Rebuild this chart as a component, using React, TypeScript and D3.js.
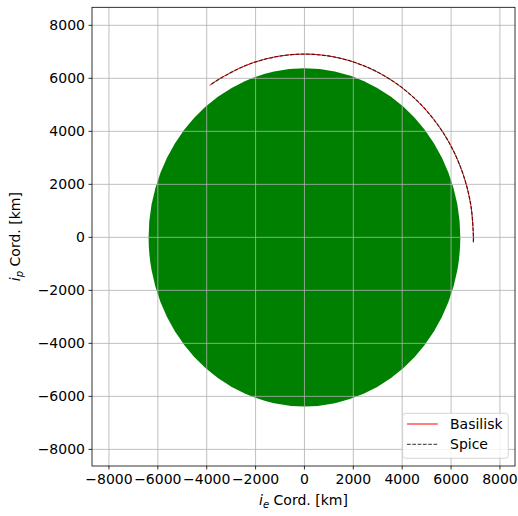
import React from "react";
import * as d3 from "d3";

// Orbit points (km)
const basiliskX = [6912, 6915, 6810, 6498, 5989, 5297, 4445, 3458, 2365, 1201, 0, -1201, -2365, -3458, -3874];
const basiliskY = [-193, 0, 1201, 2365, 3458, 4445, 5297, 5989, 6498, 6810, 6915, 6810, 6498, 5989, 5739];
const spiceX = [6908, 6915, 6810, 6498, 5989, 5297, 4445, 3458, 2365, 1201, 0, -1201, -2365, -3458, -3874];
const spiceY = [-160, 0, 1201, 2365, 3458, 4445, 5297, 5989, 6498, 6810, 6915, 6810, 6498, 5989, 5739];
const earthRadius = [6378];
const ticks = [-8000, -6000, -4000, -2000, 0, 2000, 4000, 6000, 8000];
const legendLabels = ["Basilisk", "Spice"];

const W = 518, H = 516;
const left = 92, right = 515, top = 7.3, bottom = 466;
const font = "DejaVu Sans, sans-serif";

export default function App() {
  const x = d3.scaleLinear().domain([-8694, 8616]).range([left, right]);
  const y = d3.scaleLinear().domain([-8627, 8680]).range([bottom, top]);
  const line = d3.line<[number, number]>().x(d => x(d[0])).y(d => y(d[1])).curve(d3.curveCatmullRom);
  const bas = basiliskX.map((v, i) => [v, basiliskY[i]] as [number, number]);
  const spi = spiceX.map((v, i) => [v, spiceY[i]] as [number, number]);
  const fmt = (t: number) => (t < 0 ? "\u2212" + Math.abs(t) : String(t));
  const R = earthRadius[0];
  const lx = 402.7, ly = 413.3, lw = 105.6, lh = 45;
  return (
    <svg width={W} height={H} style={{ position: "absolute", left: 0, top: 0 }} fontFamily={font}>
      <rect x={0} y={0} width={W} height={H} fill="white" />
      <defs>
        <clipPath id="clip"><rect x={left} y={top} width={right - left} height={bottom - top} /></clipPath>
      </defs>
      <g clipPath="url(#clip)">
        <ellipse cx={x(0)} cy={y(0)} rx={x(R) - x(0)} ry={y(0) - y(R)} fill="#008000" />
        {ticks.map(t => (
          <line key={"gx" + t} x1={x(t)} x2={x(t)} y1={top} y2={bottom} stroke="#b0b0b0" strokeWidth={0.8} />
        ))}
        {ticks.map(t => (
          <line key={"gy" + t} x1={left} x2={right} y1={y(t)} y2={y(t)} stroke="#b0b0b0" strokeWidth={0.8} />
        ))}
        <path d={line(bas) || ""} fill="none" stroke="red" strokeWidth={1} />
        <path d={line(spi) || ""} fill="none" stroke="black" strokeOpacity={0.65} strokeWidth={1.3} strokeDasharray="3.7,1.6" />
      </g>
      <rect x={left} y={top} width={right - left} height={bottom - top} fill="none" stroke="black" strokeWidth={0.8} />
      {ticks.map(t => (
        <g key={"tx" + t}>
          <line x1={x(t)} x2={x(t)} y1={bottom} y2={bottom + 3.5} stroke="black" strokeWidth={0.8} />
          <text x={x(t)} y={bottom + 17.5} fontSize={14} textAnchor="middle">{fmt(t)}</text>
        </g>
      ))}
      {ticks.map(t => (
        <g key={"ty" + t}>
          <line x1={left - 3.5} x2={left} y1={y(t)} y2={y(t)} stroke="black" strokeWidth={0.8} />
          <text x={left - 7} y={y(t)} dy="0.35em" fontSize={14} textAnchor="end">{fmt(t)}</text>
        </g>
      ))}
      <text x={(left + right) / 2} y={505} fontSize={14} textAnchor="middle">
        <tspan fontStyle="italic">i</tspan>
        <tspan fontStyle="italic" fontSize={10} dy={3}>e</tspan>
        <tspan dy={-3}> Cord. [km]</tspan>
      </text>
      <text transform={`translate(20,${(top + bottom) / 2}) rotate(-90)`} fontSize={14} textAnchor="middle">
        <tspan fontStyle="italic">i</tspan>
        <tspan fontStyle="italic" fontSize={10} dy={3}>p</tspan>
        <tspan dy={-3}> Cord. [km]</tspan>
      </text>
      <rect x={lx} y={ly} width={lw} height={lh} rx={3} fill="white" fillOpacity={0.8} stroke="#cccccc" strokeWidth={0.8} />
      <line x1={407} x2={437.7} y1={424} y2={424} stroke="red" strokeWidth={1} />
      <line x1={407} x2={437.7} y1={444.3} y2={444.3} stroke="black" strokeOpacity={0.65} strokeWidth={1.3} strokeDasharray="3.7,1.6" />
      <text x={450} y={424} dy="0.35em" fontSize={14}>{legendLabels[0]}</text>
      <text x={450} y={444.3} dy="0.35em" fontSize={14}>{legendLabels[1]}</text>
    </svg>
  );
}
